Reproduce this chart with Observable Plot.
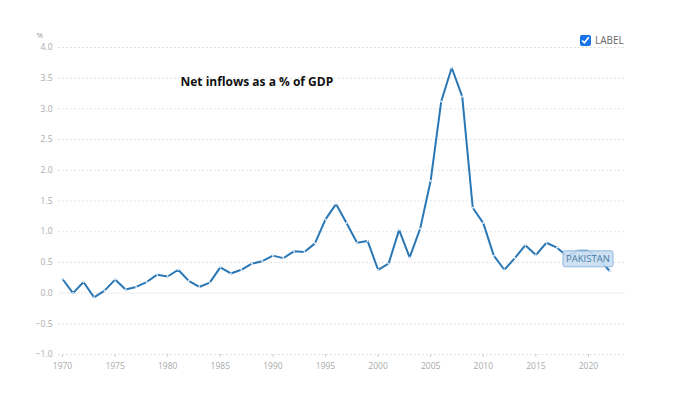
<!DOCTYPE html>
<html>
<head>
<meta charset="utf-8">
<script src="https://cdn.jsdelivr.net/npm/d3@7"></script>
<script src="https://cdn.jsdelivr.net/npm/@observablehq/plot@0.6"></script>
<style>
  body { margin: 0; background: #fff; font-family: "Open Sans", sans-serif; }
  #wrap { position: relative; width: 694px; height: 396px; }
  #wrap svg { position: absolute; left: 0; top: 0; }
  #legend { position: absolute; left: 580px; top: 33px; display: flex; align-items: center; font: 10px "Open Sans", sans-serif; color: #666; }
  #legend input { margin: 0 4px 0 0; width: 11px; height: 11px; accent-color: #1a73e8; }
</style>
</head>
<body>
<div id="wrap"><div id="legend"><input type="checkbox" checked><span>LABEL</span></div></div>
<script>
const years = [1970,1971,1972,1973,1974,1975,1976,1977,1978,1979,1980,1981,1982,1983,1984,1985,1986,1987,1988,1989,1990,1991,1992,1993,1994,1995,1996,1997,1998,1999,2000,2001,2002,2003,2004,2005,2006,2007,2008,2009,2010,2011,2012,2013,2014,2015,2016,2017,2018,2019,2020,2021,2022];
const values = [0.23,0.00,0.18,-0.07,0.04,0.22,0.06,0.10,0.18,0.30,0.27,0.38,0.20,0.10,0.17,0.42,0.32,0.38,0.48,0.52,0.61,0.57,0.68,0.67,0.81,1.20,1.45,1.14,0.82,0.85,0.38,0.48,1.03,0.58,1.05,1.83,3.12,3.67,3.20,1.39,1.14,0.61,0.38,0.57,0.78,0.62,0.82,0.74,0.60,0.69,0.69,0.56,0.36];
const yTicks = [-1.0,-0.5,0.0,0.5,1.0,1.5,2.0,2.5,3.0,3.5,4.0];
const xTicks = [1970,1975,1980,1985,1990,1995,2000,2005,2010,2015,2020];
const title = "Net inflows as a % of GDP";
const unit = "%";
const seriesLabel = [{name: "PAKISTAN", year: 2020, value: 0.55}];

const data = years.map((y, i) => ({year: y, value: values[i]}));
const blue = "#2a77b5";

function labelBox(index, scales, channels, dims, context) {
  const g = d3.create("svg:g");
  for (const i of index) {
    const cx = channels.x[i], cy = channels.y[i];
    const w = 50, h = 16;
    g.append("rect").attr("x", cx - w/2).attr("y", cy - h/2).attr("width", w).attr("height", h)
      .attr("rx", 2).attr("fill", "#c9def1").attr("fill-opacity", 0.9).attr("stroke", "#8fb6dc").attr("stroke-width", 1);
    g.append("text").attr("x", cx).attr("y", cy).attr("text-anchor", "middle").attr("dy", "0.35em")
      .attr("fill", "#4a7aa8").attr("font-size", 9.5).attr("font-family", "Open Sans, sans-serif").text(seriesLabel[i].name);
  }
  return g.node();
}

const plot = Plot.plot({
  width: 694,
  height: 396,
  marginLeft: 58,
  marginRight: 69,
  marginTop: 47,
  marginBottom: 42,
  style: {fontFamily: "Open Sans, sans-serif", background: "#fff"},
  x: {domain: [1969.62, 2023.52], label: null},
  y: {domain: [-1, 4], label: null},
  marks: [
    Plot.ruleY(yTicks.filter(d => d !== 0), {stroke: "#d9d9d9", strokeDasharray: "1.5,2.5", strokeWidth: 1}),
    Plot.ruleY([0], {stroke: "#ececec", strokeWidth: 1}),
    Plot.axisY({ticks: yTicks, tickFormat: d3.format(".1f"), tickSize: 0, tickPadding: 6, fontSize: 8.5, fill: "#aaaaaa", label: null}),
    Plot.axisX({ticks: xTicks, tickFormat: d => String(d), tickSize: 3, tickPadding: 5, stroke: "#cccccc", fontSize: 8.5, fill: "#aaaaaa", label: null}),
    Plot.line(data, {x: "year", y: "value", stroke: blue, strokeWidth: 2}),
    Plot.dot(data, {x: "year", y: "value", r: 1, fill: "#e8f1f9", stroke: null}),
    Plot.text([title], {frameAnchor: "top-left", dx: 122, dy: 30, text: d => d, textAnchor: "start", fontSize: 12, fontWeight: "bold", fill: "#111"}),
    Plot.text([unit], {frameAnchor: "top-left", dx: -22, dy: -15, text: d => d, textAnchor: "start", fontSize: 8, fill: "#999"}),
    Plot.text(seriesLabel, {x: "year", y: "value", text: "name", render: labelBox})
  ]
});

document.getElementById("wrap").prepend(plot);
</script>
</body>
</html>
